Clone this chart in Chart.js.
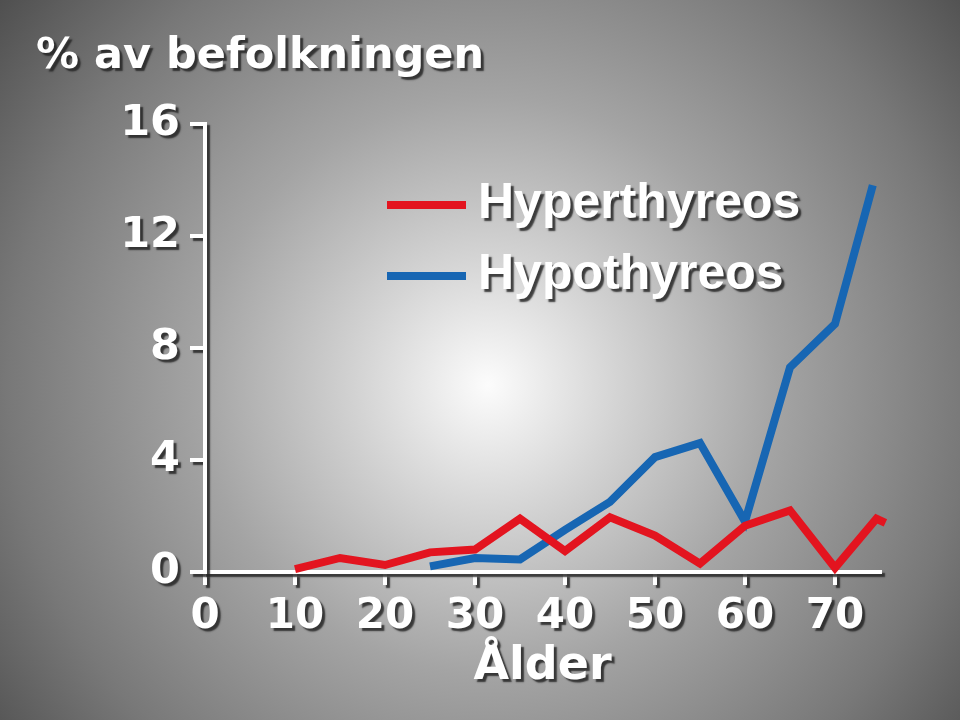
<!DOCTYPE html>
<html>
<head>
<meta charset="utf-8">
<script src="https://cdn.jsdelivr.net/npm/chart.js@4.4.1/dist/chart.umd.min.js"></script>
<style>
  html, body { margin: 0; padding: 0; background: #777; }
  canvas { display: block; }
</style>
</head>
<body>
<canvas id="myChart" width="960" height="720"></canvas>
<script>
const ctx = document.getElementById('myChart');

// values (age in years, % of population)
const hyperAges = [10, 15, 20, 25, 30, 35, 40, 45, 50, 55, 60, 65, 70, 74.6, 75.6];
const hyperValues = [0.1, 0.5, 0.25, 0.7, 0.8, 1.9, 0.75, 1.95, 1.3, 0.3, 1.65, 2.2, 0.15, 1.9, 1.75];
const hypoAges = [25, 30, 35, 40, 45, 50, 55, 60, 65, 70, 74.2];
const hypoValues = [0.2, 0.5, 0.45, 1.5, 2.5, 4.1, 4.6, 1.8, 7.3, 8.85, 13.8];
const seriesLabels = ['Hyperthyreos', 'Hypothyreos'];
const yTicks = [0, 4, 8, 12, 16];
const xTicks = [0, 10, 20, 30, 40, 50, 60, 70];

const toPoints = (xs, ys) => xs.map((x, i) => ({ x: x, y: ys[i] }));

const SHADOW = 'rgba(35,35,35,0.85)';

// grey radial background, then shadow for axis texts until datasets are drawn
const backdrop = {
  id: 'backdrop',
  beforeDraw(chart) {
    const c = chart.ctx;
    c.save();
    const g = c.createRadialGradient(488, 385, 0, 488, 385, 640);
    g.addColorStop(0, '#fcfcfc');
    g.addColorStop(0.05, '#f2f2f2');
    g.addColorStop(0.2, '#d4d4d4');
    g.addColorStop(0.45, '#a4a4a4');
    g.addColorStop(0.75, '#787878');
    g.addColorStop(1, '#4a4a4a');
    c.fillStyle = g;
    c.fillRect(0, 0, chart.width, chart.height);
    c.restore();
    c.shadowColor = SHADOW;
    c.shadowOffsetX = 3;
    c.shadowOffsetY = 3;
    c.shadowBlur = 1.5;
  },
  beforeDatasetsDraw(chart) {
    const c = chart.ctx;
    c.shadowColor = 'rgba(0,0,0,0)';
    c.shadowOffsetX = 0;
    c.shadowOffsetY = 0;
    c.shadowBlur = 0;
  }
};

// legend drawn inside the plot: a line sample and the label
const lineLegend = {
  id: 'lineLegend',
  afterDraw(chart, args, opts) {
    const c = chart.ctx;
    chart.data.datasets.forEach((ds, i) => {
      const y = opts.top + i * opts.gap;
      c.save();
      c.strokeStyle = ds.borderColor;
      c.lineWidth = 8;
      c.beginPath();
      c.moveTo(opts.left, y);
      c.lineTo(opts.left + opts.lineLen, y);
      c.stroke();
      c.font = opts.font;
      c.fillStyle = '#fff';
      c.textBaseline = 'middle';
      c.shadowColor = SHADOW;
      c.shadowOffsetX = 3;
      c.shadowOffsetY = 3;
      c.shadowBlur = 1.5;
      c.fillText(ds.label, opts.left + opts.lineLen + opts.textGap, y - 1);
      c.restore();
    });
  }
};

new Chart(ctx, {
  type: 'line',
  data: {
    datasets: [{
      label: seriesLabels[0],
      data: toPoints(hyperAges, hyperValues),
      borderColor: '#e3141f',
      backgroundColor: '#e3141f'
    }, {
      label: seriesLabels[1],
      data: toPoints(hypoAges, hypoValues),
      borderColor: '#1766b3',
      backgroundColor: '#1766b3'
    }]
  },
  options: {
    responsive: false,
    animation: false,
    clip: false,
    layout: { padding: { left: 36, right: 80, top: 0, bottom: 0 } },
    elements: {
      line: { borderWidth: 8, tension: 0, borderJoinStyle: 'miter', borderCapStyle: 'butt', fill: false },
      point: { radius: 0, hoverRadius: 0 }
    },
    scales: {
      x: {
        type: 'linear',
        min: 0,
        max: 75,
        afterFit: (scale) => { scale.height = 148; },
        afterBuildTicks: (scale) => { scale.ticks = xTicks.map(v => ({ value: v })); },
        grid: { drawOnChartArea: false, drawTicks: true, tickLength: 13, color: '#fff', lineWidth: 4 },
        border: { display: true, color: '#fff', width: 4 },
        ticks: {
          color: '#fff',
          padding: 7,
          maxRotation: 0,
          autoSkip: false,
          font: { family: "'DejaVu Sans', sans-serif", weight: 'bold', size: 42 }
        },
        title: {
          display: true,
          text: 'Ålder',
          color: '#fff',
          padding: { top: 0, bottom: 30 },
          font: { family: "'DejaVu Sans', sans-serif", weight: 'bold', size: 46, lineHeight: 1 }
        }
      },
      y: {
        min: 0,
        max: 16,
        afterFit: (scale) => { scale.width = 169; },
        afterBuildTicks: (scale) => { scale.ticks = yTicks.map(v => ({ value: v })); },
        grid: { drawOnChartArea: false, drawTicks: true, tickLength: 15, color: '#fff', lineWidth: 4 },
        border: { display: true, color: '#fff', width: 4 },
        ticks: {
          color: '#fff',
          padding: 10,
          font: { family: "'DejaVu Sans', sans-serif", weight: 'bold', size: 43 }
        }
      }
    },
    plugins: {
      legend: { display: false },
      tooltip: { enabled: false },
      title: {
        display: true,
        text: '% av befolkningen',
        align: 'start',
        color: '#fff',
        padding: { top: 31, bottom: 41 },
        font: { family: "'DejaVu Sans', sans-serif", weight: 'bold', size: 43, lineHeight: 1.2 }
      },
      lineLegend: {
        left: 387,
        top: 205,
        gap: 71,
        lineLen: 79,
        textGap: 12,
        font: "bold 50px 'Liberation Sans', Arial, sans-serif"
      }
    }
  },
  plugins: [backdrop, lineLegend]
});
</script>
</body>
</html>
